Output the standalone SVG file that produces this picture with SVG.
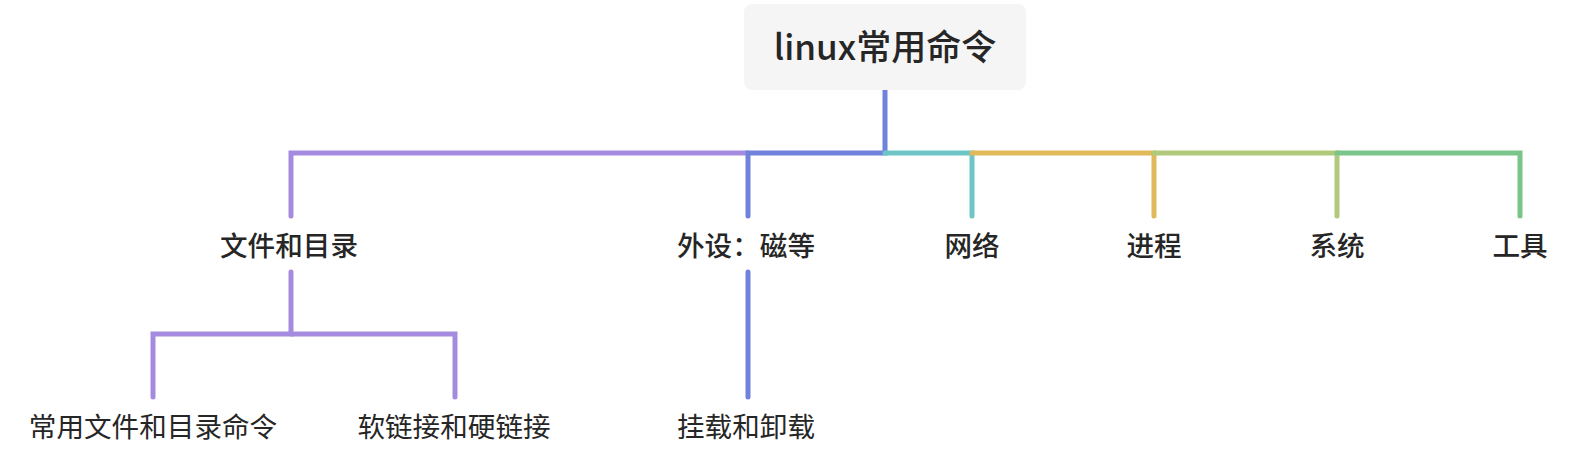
<svg xmlns="http://www.w3.org/2000/svg" width="1578" height="460" viewBox="0 0 1578 460">
<style>
text{font-family:"Noto Sans CJK SC","Noto Sans",sans-serif;fill:#262626;text-anchor:middle}
.root{font-size:35px;font-weight:500}
.l1{font-size:27.6px;font-weight:500}
.l2{font-size:27.6px;font-weight:400}
.e{fill:none;stroke-width:5;stroke-linecap:round;stroke-linejoin:miter}
.purple{stroke:#A58BE0}
.blue{stroke:#7182DA}
.teal{stroke:#6DC5C5}
.gold{stroke:#DFB95A}
.lime{stroke:#B0C97B}
.green{stroke:#7AC58A}
</style>
<rect width="1578" height="460" fill="#ffffff"/>
<g id="connectors">
<path class="e purple" d="M748,153 H291 V216"/>
<path class="e blue" d="M885,90 V153 H748 V216"/>
<path class="e teal" d="M885,153 H972 V216"/>
<path class="e gold" d="M972,153 H1154 V216"/>
<path class="e lime" d="M1154,153 H1337 V216"/>
<path class="e green" d="M1337,153 H1520 V216"/>
<path class="e purple" d="M291,272 V334 H153 V397"/>
<path class="e purple" d="M291,334 H455 V397"/>
<path class="e blue" d="M748,272 V397"/>
</g>
<g id="root">
<rect x="744" y="4" width="282" height="86" rx="8" fill="#F5F5F5"/>
<text class="root" x="885" y="60">linux常用命令</text>
</g>
<g id="n-files"><text class="l1" x="289" y="256">文件和目录</text></g>
<g id="n-devices"><text class="l1" x="746" y="256">外设：磁等</text></g>
<g id="n-network"><text class="l1" x="972" y="256">网络</text></g>
<g id="n-process"><text class="l1" x="1154" y="256">进程</text></g>
<g id="n-system"><text class="l1" x="1337" y="256">系统</text></g>
<g id="n-tools"><text class="l1" x="1520" y="256">工具</text></g>
<g id="n-common"><text class="l2" x="153" y="437">常用文件和目录命令</text></g>
<g id="n-links"><text class="l2" x="454" y="437">软链接和硬链接</text></g>
<g id="n-mount"><text class="l2" x="746" y="437">挂载和卸载</text></g>
</svg>
